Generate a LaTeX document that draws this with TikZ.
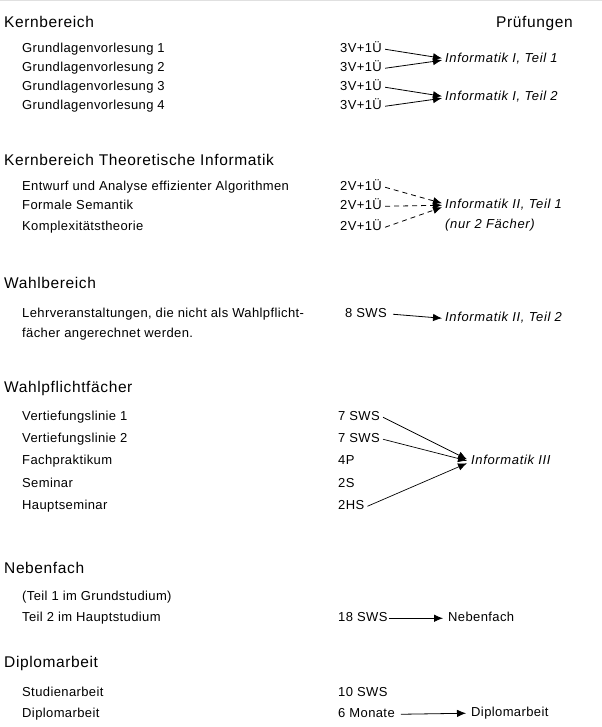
\documentclass[tikz,border=0pt]{standalone}
\usepackage{fontspec}
\setmainfont{Liberation Sans}
\newfontfamily\headfont[LetterSpace=4]{Liberation Sans}
\newfontfamily\itemfont[LetterSpace=3]{Liberation Sans}
\newfontfamily\examfont[LetterSpace=5]{Liberation Sans}
\usetikzlibrary{arrows.meta}
\begin{document}
\begin{tikzpicture}[x=1bp,y=-1bp,
 head/.style={anchor=base west,inner sep=0pt,font=\headfont\fontsize{15.5bp}{18bp}\selectfont},
 item/.style={anchor=base west,inner sep=0pt,text height=9bp,text depth=2.5bp,font=\itemfont\fontsize{13bp}{15bp}\selectfont},
 exam/.style={item,font=\examfont\itshape\fontsize{13bp}{15bp}\selectfont},
 conn/.style={-{Latex[length=9bp,width=7.5bp]},line width=0.8bp},
 dconn/.style={conn,dash pattern=on 5bp off 4bp}]
\useasboundingbox (0,0) rectangle (602,727);
\draw[black!12,line width=1bp] (0,1) -- (602,1);

% Kernbereich
\node[head] (h1) at (4,27.4) {Kernbereich};
\node[head] (pr) at (496,27.4) {Prüfungen};
\node[item] (g1) at (22,52.5) {Grundlagenvorlesung 1};
\node[item] (g2) at (22,71.5) {Grundlagenvorlesung 2};
\node[item] (g3) at (22,90.5) {Grundlagenvorlesung 3};
\node[item] (g4) at (22,109.5) {Grundlagenvorlesung 4};
\node[item] (v1) at (340,52.5) {3V+1Ü};
\node[item] (v2) at (340,71.5) {3V+1Ü};
\node[item] (v3) at (340,90.5) {3V+1Ü};
\node[item] (v4) at (340,109.5) {3V+1Ü};
\node[exam] (e1) at (445,62.5) {Informatik I, Teil 1};
\node[exam] (e2) at (445,100.5) {Informatik I, Teil 2};
\draw[conn] ([xshift=3bp]v1.east) -- ([xshift=-3bp,yshift=1bp]e1.west);
\draw[conn] ([xshift=3bp]v2.east) -- ([xshift=-3bp,yshift=-1bp]e1.west);
\draw[conn] ([xshift=3bp]v3.east) -- ([xshift=-3bp,yshift=1bp]e2.west);
\draw[conn] ([xshift=3bp]v4.east) -- ([xshift=-3bp,yshift=-1bp]e2.west);

% Kernbereich Theoretische Informatik
\node[head] (h2) at (4,165.4) {Kernbereich Theoretische Informatik};
\node[item] (t1) at (22,190.5) {Entwurf und Analyse effizienter Algorithmen};
\node[item] (t2) at (22,209.5) {Formale Semantik};
\node[item] (t3) at (22,230.5) {Komplexitätstheorie};
\node[item] (w1) at (340,190.5) {2V+1Ü};
\node[item] (w2) at (340,209.5) {2V+1Ü};
\node[item] (w3) at (340,230.5) {2V+1Ü};
\node[exam] (e3) at (445,208.5) {Informatik II, Teil 1};
\node[exam] (e3b) at (445,228.5) {(nur 2 Fächer)};
\draw[dconn] ([xshift=3bp]w1.east) -- ([xshift=-3bp,yshift=2bp]e3.west);
\draw[dconn] ([xshift=3bp]w2.east) -- ([xshift=-3bp]e3.west);
\draw[dconn] ([xshift=3bp]w3.east) -- ([xshift=-3bp,yshift=-2bp]e3.west);

% Wahlbereich
\node[head] (h3) at (4,288.4) {Wahlbereich};
\node[item] (l1) at (22,317.5) {Lehrveranstaltungen, die nicht als Wahlpflicht-};
\node[item] (l2) at (22,337.5) {fächer angerechnet werden.};
\node[item] (s8) at (345,317.5) {8 SWS};
\node[exam] (e4) at (445,321.5) {Informatik II, Teil 2};
\draw[conn] ([xshift=6bp]s8.east) -- ([xshift=-3bp]e4.west);

% Wahlpflichtfaecher
\node[head] (h4) at (4,392.4) {Wahlpflichtfächer};
\node[item] (p1) at (22,420.5) {Vertiefungslinie 1};
\node[item] (p2) at (22,442.5) {Vertiefungslinie 2};
\node[item] (p3) at (22,464.5) {Fachpraktikum};
\node[item] (p4) at (22,487.5) {Seminar};
\node[item] (p5) at (22,509.5) {Hauptseminar};
\node[item] (q1) at (338,420.5) {7 SWS};
\node[item] (q2) at (338,442.5) {7 SWS};
\node[item] (q3) at (338,464.5) {4P};
\node[item] (q4) at (338,487.5) {2S};
\node[item] (q5) at (338,509.5) {2HS};
\node[exam] (e5) at (471,464.5) {Informatik III};
\draw[conn,line width=0.7bp] ([xshift=3bp]q1.east) -- ([xshift=-4bp,yshift=2bp]e5.west);
\draw[conn,line width=0.7bp] ([xshift=3bp]q2.east) -- ([xshift=-4bp,yshift=0.5bp]e5.west);
\draw[conn,line width=0.7bp] ([xshift=3bp]q5.east) -- ([xshift=-4bp,yshift=-2bp]e5.west);

% Nebenfach
\node[head] (h5) at (4,573.4) {Nebenfach};
\node[item] (n1) at (22,600.5) {(Teil 1 im Grundstudium)};
\node[item] (n2) at (22,621.5) {Teil 2 im Hauptstudium};
\node[item] (n3) at (338,621.5) {18 SWS};
\node[item] (n4) at (448,621.5) {Nebenfach};
\draw[conn] ([xshift=1bp]n3.east) -- ([xshift=-5bp]n4.west);

% Diplomarbeit
\node[head] (h6) at (4,667.4) {Diplomarbeit};
\node[item] (d1) at (22,696.5) {Studienarbeit};
\node[item] (d2) at (22,717.5) {Diplomarbeit};
\node[item] (d3) at (338,696.5) {10 SWS};
\node[item] (d4) at (338,717.5) {6 Monate};
\node[item] (d5) at (471,716.5) {Diplomarbeit};
\draw[conn] ([xshift=6bp]d4.east) -- ([xshift=-5bp]d5.west);
\end{tikzpicture}
\end{document}
